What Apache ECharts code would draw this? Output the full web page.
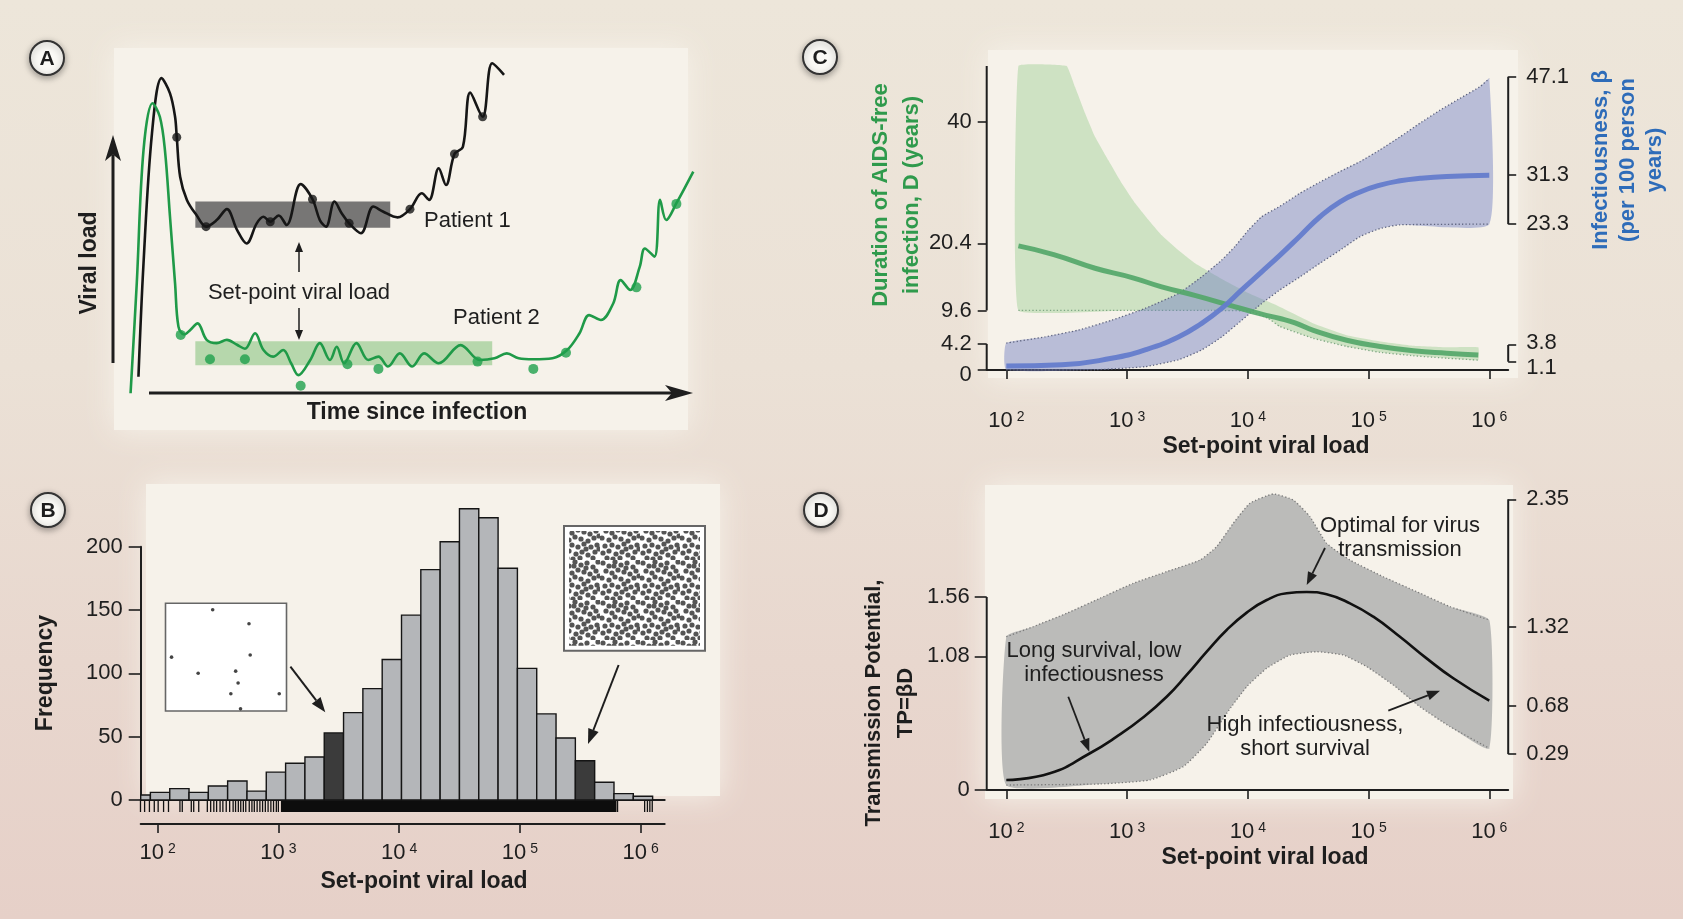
<!DOCTYPE html>
<html>
<head>
<meta charset="utf-8">
<title>Set-point viral load</title>
<script src="https://cdn.jsdelivr.net/npm/echarts@6.0.0/dist/echarts.min.js"></script>
<style>
  html, body { margin: 0; padding: 0; }
  body {
    width: 1683px; height: 919px; overflow: hidden;
    background: linear-gradient(180deg, #ede6da 0%, #ebe1d6 40%, #e8d7ce 72%, #e6d0c8 100%);
  }
  #chart { width: 1683px; height: 919px; }
</style>
</head>
<body>
<div id="chart"></div>
<script>
const FONT = '"Liberation Sans", Arial, Helvetica, sans-serif';
const INK = '#1e1e1e';

// ---- A: schematic trajectories (arbitrary units: time 0-100, viral load 0-100)
const p1Time = [1.5, 2.4, 3.9, 5.6, 7.1, 8.0, 8.3, 8.9, 10.1, 11.8, 13.5, 15.4, 17.2, 19.0, 20.7, 22.5, 23.7, 24.9, 26.4, 27.8, 30.3, 32.4, 33.7, 34.8, 36.3, 37.6, 38.9, 41.0, 43.2, 44.9, 47.5, 49.7, 51.8, 53.1, 54.8, 56.1, 57.6, 59.1, 60.4, 62.6, 64.3, 66.4];
const p1Load = [5, 39.4, 78.8, 95.5, 90.9, 83.8, 77.6, 65.6, 58.6, 54.0, 50.5, 52.5, 55.8, 49.5, 45.4, 51.5, 53.5, 52.0, 53.9, 51.0, 63.4, 58.8, 52.5, 50.5, 58.1, 54.5, 51.5, 48.5, 56.6, 55.1, 53.3, 55.8, 60.6, 58.6, 68.2, 63.1, 72.5, 74.7, 91.1, 83.8, 100, 96.5];
const p1SampleTime = [8.3, 13.5, 24.9, 32.4, 38.9, 49.7, 57.6, 62.6];
const p1SampleLoad = [77.6, 50.5, 52.0, 58.8, 51.5, 55.8, 72.5, 83.8];

const p2Time = [0.1, 1.2, 2.4, 4.0, 5.3, 6.2, 7.1, 8.0, 8.6, 9.6, 10.7, 12.0, 13.6, 15.4, 17.2, 19.0, 20.4, 22.2, 23.7, 25.4, 27.2, 28.6, 29.9, 32.0, 33.7, 35.5, 36.7, 38.0, 40.2, 42.3, 44.1, 45.8, 47.9, 50.1, 52.2, 54.8, 58.7, 62.1, 64.7, 66.9, 69.0, 71.6, 75.0, 77.6, 79.8, 81.5, 83.6, 85.8, 87.1, 88.8, 90.5, 91.4, 93.1, 94.1, 95.2, 97.0, 100];
const p2Load = [0, 33.3, 73.7, 87.9, 83.8, 73.7, 53.5, 33.3, 20.2, 17.8, 19.2, 21.2, 16.2, 15.2, 16.2, 14.7, 13.5, 18.2, 13.1, 11.1, 13.1, 9.1, 5.5, 10.1, 15.2, 10.1, 14.1, 9.1, 15.2, 10.1, 11.1, 8.1, 12.1, 8.1, 12.1, 9.1, 14.6, 10.1, 10.6, 12.1, 10.6, 10.3, 10.6, 13.1, 18.2, 23.7, 22.2, 27.3, 34.3, 31.3, 38.4, 43.9, 41.4, 58.6, 52.5, 57.6, 67.2];
const p2SampleTime = [9.0, 14.2, 20.4, 30.3, 38.6, 44.1, 61.7, 71.6, 77.4, 89.9, 97.0];
const p2SampleLoad = [17.7, 10.3, 10.3, 2.3, 8.8, 7.4, 9.6, 7.4, 12.3, 32.1, 57.4];

// set-point ranges: [time from, time to, load from, load to]
const setPointBoxes = [[11.6, 46.2, 50.2, 58.1], [11.6, 64.3, 8.5, 15.8]];

// ---- B: histogram of set-point viral load
const binEdges = [72.4, 87.1, 126, 182, 263, 380, 550, 794, 1148, 1660, 2399, 3467, 5012, 7244, 10471, 15136, 21878, 31623, 45709, 66069, 95499, 138038, 199526, 288403, 416869, 602560, 870964, 1258925];
const binCounts = [4, 6, 9, 6, 11, 15, 7, 22, 29, 34, 53, 69, 88, 111, 146, 182, 204, 230, 223, 183, 104, 68, 49, 31, 14, 5, 3];
const highlightedBins = [10, 23];
const rugTicks = [72.1, 78, 85.5, 93.8, 101, 112, 123, 153, 160, 190, 199, 219, 258, 275, 292, 308, 329, 347, 370, 395, 422, 442, 466, 488, 513, 537, 574, 604, 632, 667, 703, 740, 780, 822, 867, 912, 962, 1000,
  645000, 1081000, 1140000, 1194000, 1250000];
const rugDenseRanges = [[1050, 632000]];
const freqTicks = [0, 50, 100, 150, 200];

// ---- C: duration D (left axis) and infectiousness beta (right axis)
const durX = [126, 247, 543, 1100, 1936, 3700, 6902, 13000, 18490, 24600, 34910, 65920, 124500, 235000, 443600, 811000];
const dur = [20.0, 18.6, 16.4, 14.9, 13.4, 12.0, 10.5, 9.0, 8.3, 7.6, 6.4, 4.8, 3.8, 3.1, 2.7, 2.4];
const durUpX = [126, 316, 371, 449, 543, 700, 904, 1164, 1500, 1936, 2661, 3656, 5023, 6902, 10090, 17000, 34910, 65920, 124500, 235000, 443600, 811000];
const durUp = [49, 49, 45.6, 41.4, 37.6, 33.8, 30.1, 26.9, 24.2, 21.7, 19.3, 17.2, 15.6, 14.1, 12.4, 10.5, 7.5, 5.6, 4.6, 3.9, 3.65, 3.65];
const durLoX = [126, 1000, 5000, 10090, 14800, 18490, 34910, 65920, 124500, 235000, 443600, 811000];
const durLo = [9.6, 9.6, 9.6, 9.5, 8.3, 7.0, 5.1, 3.8, 2.85, 2.3, 1.9, 1.6];

const betaX = [100, 288, 746, 1409, 2661, 4150, 6081, 8913, 13030, 18490, 27100, 39630, 58080, 85110, 124500, 182400, 266700, 443600, 1000000];
const beta = [0.4, 0.6, 1.65, 3.0, 5.1, 7.3, 9.7, 12.7, 15.6, 18.3, 21.4, 24.5, 26.9, 28.5, 29.6, 30.3, 30.7, 31.0, 31.2];
const betaUpX = [100, 209, 395, 746, 1409, 2661, 4150, 6081, 7834, 10090, 13030, 18490, 27100, 39630, 58080, 85110, 124500, 182400, 266700, 390800, 571500, 837500, 1000000];
const betaUp = [4.1, 5.1, 6.2, 7.8, 9.7, 12.1, 14.8, 17.5, 19.7, 22.3, 24.5, 26.2, 28.3, 30.1, 31.8, 33.4, 35.3, 37.4, 39.6, 41.7, 43.6, 45.5, 46.8];
const betaLoX = [100, 543, 1409, 2661, 4150, 6081, 8913, 13030, 18490, 27100, 39630, 58080, 85110, 124500, 182400, 1000000];
const betaLo = [-0.2, -0.2, 0.3, 1.4, 3.0, 5.1, 7.8, 10.5, 12.7, 14.8, 17.0, 19.1, 21.3, 22.6, 23.2, 23.3];

// tick values (the close pairs near zero get their own axes so neither label is dropped)
const durTicks = [4.2, 9.6, 20.4, 40];
const durZeroTick = [0];
const betaTicks = [23.3, 31.3, 47.1];
const betaTickUpper = [3.8];
const betaTickLower = [1.1];

// ---- D: transmission potential TP = beta * D
const tpX = [100, 230, 493, 820, 1365, 2128, 3119, 4571, 6683, 9795, 14350, 20990, 30760, 44980, 70150, 109600, 182000, 302700, 503500, 1000000];
const tp = [0.081, 0.135, 0.297, 0.431, 0.588, 0.754, 0.930, 1.118, 1.293, 1.434, 1.536, 1.590, 1.601, 1.582, 1.509, 1.401, 1.239, 1.064, 0.903, 0.722];
const tpUpX = [100, 167, 316, 597, 1127, 2128, 4018, 5521, 7586, 10420, 16260, 23820, 32730, 44980, 70150, 132400, 250600, 473200, 1000000];
const tpUp = [1.239, 1.320, 1.428, 1.550, 1.671, 1.765, 1.859, 1.967, 2.156, 2.318, 2.393, 2.344, 2.209, 1.994, 1.859, 1.724, 1.603, 1.482, 1.374];
const tpLoX = [100, 597, 1549, 2924, 4571, 6683, 9795, 14350, 22390, 37240, 61800, 96600, 160300, 266700, 473200, 1000000];
const tpLo = [0.040, 0.049, 0.081, 0.189, 0.377, 0.620, 0.835, 0.984, 1.091, 1.118, 1.091, 0.997, 0.849, 0.673, 0.512, 0.337];
const tpTicksLeft = [0, 1.08, 1.56];
const tpTicksRight = [0.29, 0.68, 1.32, 2.35];

const decades = [100, 1000, 10000, 100000, 1000000];

// axis ranges
const B_MIN = 72.4, B_MAX = 1585000;
const C_MIN = 68.8, C_MAX = 1434500;

// ---------------------------------------------------------------
const chart = echarts.init(document.getElementById('chart'));

function pairs(xs, ys) { return xs.map((x, i) => [x, ys[i]]); }

function powLabel(v) {
  return '{b|10}{s|' + Math.round(Math.log10(v)) + '}';
}
const powRich = {
  b: { fontFamily: FONT, fontSize: 22, color: INK, lineHeight: 22, verticalAlign: 'bottom' },
  s: { fontFamily: FONT, fontSize: 14, color: INK, lineHeight: 13, padding: [0, 0, 16, 4], verticalAlign: 'top' }
};

function logXAxis(grid, min, max, offset) {
  return {
    gridIndex: grid, type: 'log', logBase: 10, min: min, max: max, position: 'bottom', offset: offset,
    axisLine: { show: true, lineStyle: { color: INK, width: 2 } },
    axisTick: { show: true, customValues: decades, length: 9, lineStyle: { color: INK, width: 1.6 } },
    axisLabel: { customValues: decades, formatter: powLabel, rich: powRich, margin: 18, hideOverlap: false },
    splitLine: { show: false }
  };
}

// pad shifts a label off its tick (used for the crowded labels near zero)
function valYAxis(grid, min, max, ticks, side, line, tickLen, margin, pad) {
  return {
    gridIndex: grid, type: 'value', min: min, max: max, position: side,
    axisLine: { show: line, lineStyle: { color: INK, width: 2 } },
    axisTick: { show: true, customValues: ticks, length: tickLen, lineStyle: { color: INK, width: 1.6 } },
    axisLabel: {
      customValues: ticks, formatter: v => '{t|' + v + '}', color: INK,
      rich: { t: { fontFamily: FONT, fontSize: 22, color: INK, padding: pad || [0, 0, 0, 0] } },
      margin: margin, hideOverlap: false, showMinLabel: true, showMaxLabel: true
    },
    splitLine: { show: false }
  };
}

// band drawn as a polygon through the axis scales
function bandSeries(xi, yi, upX, upY, loX, loY, fill, edge, dotUp, dotLo, z, sm) {
  return {
    type: 'custom', xAxisIndex: xi, yAxisIndex: yi, silent: true, z: z,
    data: [[upX[0], upY[0]]],
    renderItem: function (params, api) {
      const up = upX.map((x, i) => api.coord([x, upY[i]]));
      const lo = loX.map((x, i) => api.coord([x, loY[i]]));
      const kids = [{ type: 'polygon', shape: { points: up.concat(lo.slice().reverse()), smooth: sm },
        style: { fill: fill } }];
      const dash = { stroke: edge, lineWidth: 1.3, lineDash: [1.3, 2.2], fill: null };
      if (dotUp) kids.push({ type: 'polyline', shape: { points: up, smooth: sm }, style: dash });
      if (dotLo) kids.push({ type: 'polyline', shape: { points: lo, smooth: sm }, style: dash });
      return { type: 'group', children: kids };
    }
  };
}

// partial (bracket) axis lines: [x position, from, to]
function axisSegments(xi, yi, segs) {
  return {
    type: 'custom', xAxisIndex: xi, yAxisIndex: yi, silent: true, z: 6,
    encode: { x: 0, y: [1, 2] },
    data: segs,
    renderItem: function (params, api) {
      const a = api.coord([api.value(0), api.value(1)]);
      const b = api.coord([api.value(0), api.value(2)]);
      return { type: 'line', shape: { x1: a[0], y1: a[1], x2: b[0], y2: b[1] },
        style: { stroke: INK, lineWidth: 2 } };
    }
  };
}

// ---------- graphic helpers ----------
function txt(text, x, y, o) {
  o = o || {};
  return {
    type: 'text', x: x, y: y, rotation: o.rot || 0, z: 20, silent: true,
    style: {
      text: text, fill: o.color || INK,
      font: (o.weight || 'normal') + ' ' + (o.size || 22) + 'px ' + FONT,
      align: o.align || 'center', verticalAlign: 'middle',
      textAlign: o.align || 'center', textVerticalAlign: 'middle',
      lineHeight: o.lh || 24
    }
  };
}

function arrow(x1, y1, x2, y2, o) {
  o = o || {};
  const c = o.color || INK, L = o.head || 13, W = o.w || 5, lw = o.lw || 1.8, notch = o.notch || 0;
  const ang = Math.atan2(y2 - y1, x2 - x1);
  const ca = Math.cos(ang), sa = Math.sin(ang);
  const bx = x2 - L * ca, by = y2 - L * sa;
  const nx = -sa * W, ny = ca * W;
  const mx = x2 - L * (1 - notch) * ca, my = y2 - L * (1 - notch) * sa;
  return [
    { type: 'line', z: 20, silent: true, shape: { x1: x1, y1: y1, x2: mx, y2: my }, style: { stroke: c, lineWidth: lw } },
    { type: 'polygon', z: 20, silent: true, shape: { points: [[x2, y2], [bx + nx, by + ny], [mx, my], [bx - nx, by - ny]] }, style: { fill: c } }
  ];
}

function badge(letter, x, y) {
  return [
    { type: 'circle', z: 20, silent: true, shape: { cx: x, cy: y, r: 17 },
      style: { fill: '#fbfaf6', stroke: '#333', lineWidth: 2, shadowBlur: 7, shadowColor: 'rgba(0,0,0,0.35)', shadowOffsetY: 2 } },
    txt(letter, x, y + 1, { weight: 'bold', size: 21 })
  ];
}

function panelBg(x, y, w, h) {
  return { type: 'rect', z: 0, silent: true, shape: { x: x, y: y, width: w, height: h },
    style: { fill: '#f6f2ea', shadowBlur: 28, shadowColor: 'rgba(246,242,234,1)' } };
}

// inset boxes of panel B (illustrative dot fields)
const leftInsetDots = [[0.39, 0.06], [0.69, 0.19], [0.05, 0.50], [0.70, 0.48], [0.27, 0.65], [0.58, 0.63], [0.60, 0.74], [0.54, 0.84], [0.94, 0.84], [0.62, 0.98]];
const denseDots = [[3, 3], [9, 6], [15, 2], [21, 5], [27, 3], [33, 7], [38, 2], [6, 11], [12, 13], [18, 10], [24, 12], [30, 14], [36, 11], [2, 18], [9, 20], [15, 17], [21, 19], [28, 21], [34, 18], [5, 26], [12, 25], [18, 27], [24, 24], [31, 27], [37, 25], [3, 33], [9, 31], [16, 34], [22, 32], [28, 35], [35, 32], [7, 38], [13, 39], [20, 38], [26, 29], [33, 38], [39, 29], [39, 16], [14, 6], [26, 8]];
function dotTile() {
  const c = document.createElement('canvas');
  c.width = 40; c.height = 40;
  const g = c.getContext('2d');
  g.fillStyle = '#ffffff'; g.fillRect(0, 0, 40, 40);
  g.fillStyle = '#555555';
  denseDots.forEach(p => { g.beginPath(); g.arc(p[0], p[1], 2.6, 0, Math.PI * 2); g.fill(); });
  return c;
}

const leftBox = { x: 165.5, y: 603.3, w: 121, h: 107.7 };
const rightBox = { x: 564, y: 526, w: 141, h: 124.7 };

const graphics = [
  panelBg(114, 48, 574, 382),
  panelBg(146, 484, 574, 312),
  panelBg(988, 50, 530, 328),
  panelBg(985, 485, 528, 314),
  ...badge('A', 47, 58), ...badge('B', 48, 510), ...badge('C', 820, 57), ...badge('D', 821, 510),
  // A
  ...arrow(113, 363, 113, 135, { lw: 3, head: 26, w: 8, notch: 0.25 }),
  ...arrow(149, 393, 693, 393, { lw: 3, head: 28, w: 8, notch: 0.25 }),
  ...arrow(299, 272, 299, 242, { lw: 1.5, head: 10, w: 4 }),
  ...arrow(299, 308, 299, 340, { lw: 1.5, head: 10, w: 4 }),
  txt('Viral load', 90, 263, { weight: 'bold', size: 23, rot: Math.PI / 2 }),
  txt('Time since infection', 417, 413, { weight: 'bold', size: 23 }),
  txt('Patient 1', 424, 221, { align: 'left' }),
  txt('Patient 2', 453, 318, { align: 'left' }),
  txt('Set-point viral load', 299, 293),
  // B
  txt('Frequency', 46, 673, { weight: 'bold', size: 23, rot: Math.PI / 2 }),
  txt('Set-point viral load', 424, 882, { weight: 'bold', size: 23 }),
  { type: 'rect', z: 15, silent: true, shape: { x: leftBox.x, y: leftBox.y, width: leftBox.w, height: leftBox.h },
    style: { fill: '#ffffff', stroke: '#666', lineWidth: 1.6 } },
  ...leftInsetDots.map(p => ({ type: 'circle', z: 16, silent: true,
    shape: { cx: leftBox.x + p[0] * leftBox.w, cy: leftBox.y + p[1] * leftBox.h, r: 1.8 }, style: { fill: '#444' } })),
  { type: 'rect', z: 15, silent: true, shape: { x: rightBox.x, y: rightBox.y, width: rightBox.w, height: rightBox.h },
    style: { fill: '#ffffff', stroke: '#666', lineWidth: 2 } },
  { type: 'rect', z: 16, silent: true, shape: { x: rightBox.x + 5, y: rightBox.y + 5, width: rightBox.w - 10, height: rightBox.h - 10 },
    style: { fill: { image: dotTile(), repeat: 'repeat' } } },
  ...arrow(290.4, 666.7, 325.3, 712.3, { lw: 2, head: 15, w: 5.5 }),
  ...arrow(618.6, 665, 588, 744, { lw: 2, head: 15, w: 5.5 }),
  // C
  txt('Duration of AIDS-free\ninfection, D (years)', 896, 195, { weight: 'bold', size: 22, rot: Math.PI / 2, color: '#2f9a4c', lh: 31 }),
  txt('Infectiousness, \u03b2\n(per 100 person\nyears)', 1628, 160, { weight: 'bold', size: 22, rot: Math.PI / 2, color: '#2e6cb9', lh: 27 }),
  txt('Set-point viral load', 1266, 447, { weight: 'bold', size: 23 }),
  // D
  txt('Transmission Potential,\nTP=\u03b2D', 890, 703, { weight: 'bold', size: 22, rot: Math.PI / 2, lh: 32 }),
  txt('Set-point viral load', 1265, 858, { weight: 'bold', size: 23 }),
  txt('Optimal for virus\ntransmission', 1400, 538, { lh: 24 }),
  txt('Long survival, low\ninfectiousness', 1094, 663, { lh: 24 }),
  txt('High infectiousness,\nshort survival', 1305, 737, { lh: 24 }),
  ...arrow(1325, 548, 1306.7, 585, { lw: 1.8, head: 13, w: 5 }),
  ...arrow(1068.3, 696.7, 1089.3, 751.7, { lw: 1.8, head: 13, w: 5 }),
  ...arrow(1388.3, 710.7, 1440, 690.7, { lw: 1.8, head: 13, w: 5 })
];

const option = {
  animation: false,
  textStyle: { fontFamily: FONT },
  grid: [
    { left: 130, top: 63.3, width: 563.3, height: 330, outerBoundsMode: 'none' },
    { left: 140.7, top: 546.8, width: 524, height: 253.2, outerBoundsMode: 'none' },
    { left: 986.7, top: 66, width: 521.5, height: 304, outerBoundsMode: 'none' },
    { left: 986.7, top: 490, width: 521.5, height: 300, outerBoundsMode: 'none' }
  ],
  xAxis: [
    { gridIndex: 0, type: 'value', min: 0, max: 100, show: false },
    { gridIndex: 1, type: 'log', logBase: 10, min: B_MIN, max: B_MAX, position: 'bottom',
      axisLine: { show: true, lineStyle: { color: INK, width: 2 } }, axisTick: { show: false },
      axisLabel: { show: false }, splitLine: { show: false } },
    logXAxis(1, B_MIN, B_MAX, 24),
    logXAxis(2, C_MIN, C_MAX, 22),
    logXAxis(3, C_MIN, C_MAX, 13)
  ],
  yAxis: [
    { gridIndex: 0, type: 'value', min: 0, max: 100, show: false },
    valYAxis(1, 0, 200, freqTicks, 'left', true, 12, 18),
    valYAxis(2, 0, 49, durTicks, 'left', false, 9, 15),
    valYAxis(2, -0.24, 48.83, betaTicks, 'right', false, 8, 18),
    valYAxis(3, 0, 2.425, tpTicksLeft, 'left', false, 12, 17),
    valYAxis(3, 0, 2.425, tpTicksRight, 'right', false, 8, 18),
    valYAxis(2, 0, 49, durZeroTick, 'left', false, 9, 15, [10, 0, 0, 0]),
    valYAxis(2, -0.24, 48.83, betaTickUpper, 'right', false, 8, 18, [0, 0, 5, 0]),
    valYAxis(2, -0.24, 48.83, betaTickLower, 'right', false, 8, 18, [12, 0, 0, 0])
  ],
  graphic: { elements: graphics },
  series: [
    // ---- A
    {
      type: 'custom', xAxisIndex: 0, yAxisIndex: 0, silent: true, z: 1,
      encode: { x: [0, 1], y: [2, 3] },
      data: setPointBoxes,
      renderItem: function (params, api) {
        const a = api.coord([api.value(0), api.value(3)]);
        const b = api.coord([api.value(1), api.value(2)]);
        const fills = ['rgba(96,96,96,0.85)', 'rgba(140,196,130,0.6)'];
        return { type: 'rect', shape: { x: a[0], y: a[1], width: b[0] - a[0], height: b[1] - a[1] },
          style: { fill: fills[params.dataIndex] } };
      }
    },
    { type: 'line', name: 'Patient 1', xAxisIndex: 0, yAxisIndex: 0, data: pairs(p1Time, p1Load), smooth: 0.35,
      showSymbol: false, clip: false, z: 4, lineStyle: { color: '#161616', width: 2.6 } },
    { type: 'line', name: 'Patient 2', xAxisIndex: 0, yAxisIndex: 0, data: pairs(p2Time, p2Load), smooth: 0.35,
      showSymbol: false, clip: false, z: 4, lineStyle: { color: '#1f9a48', width: 2.6 } },
    { type: 'scatter', xAxisIndex: 0, yAxisIndex: 0, data: pairs(p1SampleTime, p1SampleLoad), symbolSize: 9,
      z: 5, itemStyle: { color: '#161616' } },
    { type: 'scatter', xAxisIndex: 0, yAxisIndex: 0, data: pairs(p2SampleTime, p2SampleLoad), symbolSize: 10,
      z: 5, itemStyle: { color: '#1fa04c' } },
    // ---- B
    {
      type: 'custom', xAxisIndex: 1, yAxisIndex: 1, silent: true, z: 3,
      encode: { x: [0, 1], y: 2 },
      data: binCounts.map((c, i) => [binEdges[i], binEdges[i + 1], c]),
      renderItem: function (params, api) {
        const a = api.coord([api.value(0), api.value(2)]);
        const b = api.coord([api.value(1), 0]);
        const dark = highlightedBins.indexOf(params.dataIndex) >= 0;
        return { type: 'rect', shape: { x: a[0], y: a[1], width: b[0] - a[0], height: b[1] - a[1] },
          style: { fill: dark ? '#3b3b3b' : '#b4b6b9', stroke: '#151515', lineWidth: 1.4 } };
      }
    },
    {
      type: 'custom', xAxisIndex: 1, yAxisIndex: 1, silent: true, z: 4,
      encode: { x: 0, y: 1 },
      data: rugTicks.map(v => [v, 0]),
      renderItem: function (params, api) {
        const p = api.coord([api.value(0), 0]);
        return { type: 'line', shape: { x1: p[0], y1: p[1] + 1, x2: p[0], y2: p[1] + 12 },
          style: { stroke: '#111', lineWidth: 1.3 } };
      }
    },
    {
      type: 'custom', xAxisIndex: 1, yAxisIndex: 1, silent: true, z: 4,
      encode: { x: [0, 1], y: 2 },
      data: rugDenseRanges.map(r => [r[0], r[1], 0]),
      renderItem: function (params, api) {
        const a = api.coord([api.value(0), 0]);
        const b = api.coord([api.value(1), 0]);
        return { type: 'rect', shape: { x: a[0], y: a[1] + 1, width: b[0] - a[0], height: 11 },
          style: { fill: '#0d0d0d' } };
      }
    },
    // ---- C
    bandSeries(3, 2, durUpX, durUp, durLoX, durLo, 'rgba(150,205,140,0.42)', '#7fa884', false, true, 2, 0.08),
    bandSeries(3, 3, betaUpX, betaUp, betaLoX, betaLo, 'rgba(110,125,192,0.45)', '#5f6580', true, true, 3, 0.15),
    { type: 'line', name: 'D', xAxisIndex: 3, yAxisIndex: 2, data: pairs(durX, dur), smooth: true,
      showSymbol: false, z: 4, lineStyle: { color: 'rgba(82,166,104,0.9)', width: 5 } },
    { type: 'line', name: 'beta', xAxisIndex: 3, yAxisIndex: 3, data: pairs(betaX, beta), smooth: true,
      showSymbol: false, z: 5, lineStyle: { color: 'rgba(100,124,204,0.95)', width: 5 } },
    axisSegments(3, 2, [[C_MIN, 9.6, 49], [C_MIN, 0, 4.2]]),
    axisSegments(3, 3, [[C_MAX, 23.3, 47.1], [C_MAX, 1.1, 3.8]]),
    // ---- D
    bandSeries(4, 4, tpUpX, tpUp, tpLoX, tpLo, '#bbbbb9', '#7a7a7a', true, true, 2, 0.15),
    { type: 'line', name: 'TP', xAxisIndex: 4, yAxisIndex: 4, data: pairs(tpX, tp), smooth: true,
      showSymbol: false, z: 5, lineStyle: { color: '#111', width: 2.6 } },
    axisSegments(4, 4, [[C_MIN, 0, 1.56]]),
    axisSegments(4, 5, [[C_MAX, 0.29, 2.35]])
  ]
};

chart.setOption(option);
</script>
</body>
</html>
